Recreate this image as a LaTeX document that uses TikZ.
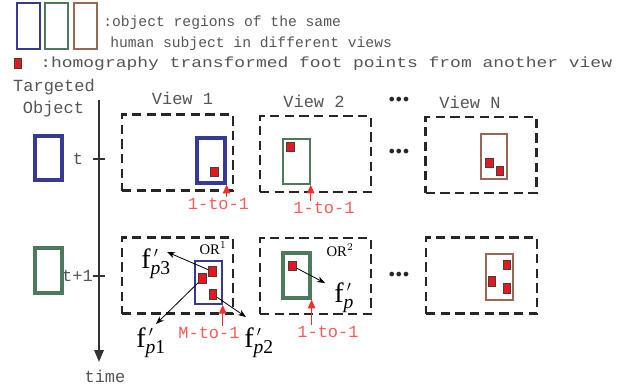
\documentclass[tikz,border=0pt]{standalone}
\usepackage{fontspec}
\setmainfont{Liberation Serif}
\setmonofont{Liberation Mono}
\newfontfamily\widemono[FakeStretch=1.226]{Liberation Mono}
\newfontfamily\dotfont{DejaVu Sans}
\usetikzlibrary{arrows.meta,positioning}

\definecolor{objblue}{HTML}{363A96}
\definecolor{objgreen}{HTML}{4C7A5C}
\definecolor{objbrown}{HTML}{9A6656}
\definecolor{footred}{HTML}{E8161E}
\definecolor{tagred}{HTML}{FF5A5A}
\definecolor{arrowred}{HTML}{FF2A2A}
\definecolor{txtgray}{HTML}{555555}

\begin{document}
\begin{tikzpicture}[
    x=0.75pt, y=-0.75pt,
    frame/.style={draw=black!85, line width=1.6pt, dash pattern=on 7pt off 4pt, minimum width=83.25pt, minimum height=57pt, inner sep=0pt},
    obj/.style={draw=#1, line width=1.1pt, minimum width=20.25pt, minimum height=33.75pt, inner sep=0pt},
    objthick/.style={obj=#1, line width=2.4pt},
    legbox/.style={draw=#1, line width=1.4pt, minimum width=17.25pt, minimum height=34.5pt, inner sep=0pt},
    foot/.style={draw=black!75, fill=footred, line width=0.7pt, minimum width=5.6pt, minimum height=7pt, inner sep=0pt},
    mono/.style={font=\ttfamily\fontsize{12.75}{14}\selectfont, text=txtgray, inner sep=0pt},
    legend/.style={font=\ttfamily\fontsize{11}{13}\selectfont, text=txtgray, inner sep=0pt, anchor=west},
    tag/.style={font=\ttfamily\fontsize{12.75}{14}\selectfont, text=tagred, inner sep=0pt},
    fvec/.style={font=\fontsize{21}{21}\selectfont, inner sep=0pt, anchor=base west},
    orlab/.style={font=\fontsize{11}{12}\selectfont, inner sep=0pt},
    more/.style={font=\dotfont\bfseries\fontsize{10}{10}\selectfont, text=black!85, inner sep=0pt},
    arrow/.style={-{Stealth[length=6pt,width=4.5pt]}, line width=0.6pt},
    redarrow/.style={-{Triangle[length=6.5pt,width=5.5pt]}, draw=arrowred, line width=0.9pt},
]
\useasboundingbox (0,0) rectangle (632,389);

% ====== Legend ======
\node[legbox=objblue] (lgB) at (28.5,26) {};
\node[legbox=objgreen] (lgG) at (56.5,26) {};
\node[legbox=objbrown] (lgR) at (85.5,26) {};
\node[legend] (lgtxt1) at (103,23) {:object regions of the same};
\node[legend] (lgtxt2) at (110,44) {human subject in different views};
\node[foot] (lgF) at (18,63.5) {};
\node[legend, font=\widemono\fontsize{11}{13}\selectfont] (lgtxt3) at (40,64) {:homography transformed foot points from another view};

% ====== Time axis ======
\node[mono] (tgt1) at (54,87) {Targeted};
\node[mono] (tgt2) at (53.5,109) {Object};
\coordinate (axtop) at (99,100);
\coordinate (axbot) at (99,362);
\draw[black!80, line width=1.6pt, -{Triangle[length=9pt,width=7pt]}] (axtop) -- (axbot);
\node[mono] (time) at (105,376) {time};
\coordinate (tk1) at (99,159);
\coordinate (tk2) at (99,276);
\draw[black!80, line width=1.2pt] ([xshift=-4.5pt]tk1) -- ([xshift=4.5pt]tk1);
\draw[black!80, line width=1.2pt] ([xshift=-4.5pt]tk2) -- ([xshift=4.5pt]tk2);
\node[mono] (lt) at (78,159) {t};
\node[mono] (ltt) at (77.5,276) {t+1};
\node[objthick=objblue, minimum height=33pt] (tgB) at (48.5,158) {};
\node[objthick=objgreen] (tgG) at (48.5,270.5) {};

% ====== View titles ======
\node[mono] (v1) at (182.5,98) {View 1};
\node[mono] (v2) at (314,101) {View 2};
\node[mono] (vN) at (470,102) {View N};
\node[more] (dots0) at (399,101) {•\kern-1pt•\kern-1pt•};
\node[more] (dots1) at (399,153) {•\kern-1pt•\kern-1pt•};
\node[more] (dots2) at (399,276) {•\kern-1pt•\kern-1pt•};

% ====== Frame t ======
\node[frame] (fr11) at (177.5,152.5) {};
\node[frame] (fr12) at (315.5,154) {};
\node[frame] (fr1N) at (481,155) {};

\node[objthick=objblue, minimum width=21pt] (r1v1) at (211,160.5) {};
\node[foot] (p11) at (214.5,172) {};
\node[obj=objgreen] (r1v2) at (296.5,161.5) {};
\node[foot] (p12) at (290.5,147) {};
\node[obj=objbrown, minimum width=19.5pt] (r1vN) at (494,156.5) {};
\node[foot] (p1Na) at (489.5,163) {};
\node[foot] (p1Nb) at (500,171) {};

\node[tag] (l11) at (218.5,204) {1-to-1};
\node[tag] (l12) at (324,208) {1-to-1};
\draw[redarrow] ([yshift=1pt]l11.north -| r1v1.south east) -- (r1v1.south east);
\draw[redarrow] ([yshift=1pt]l12.north -| r1v2.south east) -- (r1v2.south east);

% ====== Frame t+1 ======
\node[frame] (fr21) at (177.5,275.5) {};
\node[frame] (fr22) at (315.5,276) {};
\node[frame] (fr2N) at (481.5,275.5) {};

\node[obj=objblue, minimum height=32.5pt] (r2v1) at (208.5,282.5) {};
\node[foot] (p21a) at (212.5,271.5) {};
\node[foot] (p21b) at (202.5,278.5) {};
\node[foot] (p21c) at (213,294.5) {};
\node[objthick=objgreen] (r2v2) at (296.5,275.5) {};
\node[foot] (p22) at (292.5,266) {};
\node[obj=objbrown, minimum height=34.5pt] (r2vN) at (499.5,277) {};
\node[foot] (p2Na) at (507,265) {};
\node[foot] (p2Nb) at (492,281.5) {};
\node[foot] (p2Nc) at (507,288.5) {};

\node[orlab] (or1) at (213,248) {OR$^{1}$};
\node[orlab] (or2) at (340,250) {OR$^{2}$};

\node[fvec] (fp3) at (141,268) {$\mathrm{f}^{\,\scriptscriptstyle\prime}_{\mathit{p}\mathrm{3}}$};
\node[fvec] (fp1) at (136,347) {$\mathrm{f}^{\,\scriptscriptstyle\prime}_{\mathit{p}\mathrm{1}}$};
\node[fvec] (fp2) at (244,347) {$\mathrm{f}^{\,\scriptscriptstyle\prime}_{\mathit{p}\mathrm{2}}$};
\node[fvec] (fpp) at (334,302) {$\mathrm{f}^{\,\scriptscriptstyle\prime}_{\mathit{p}}$};

\coordinate (tp3) at (167,252);
\coordinate (tp1) at (156,324);
\coordinate (tp2) at (246,317);
\coordinate (tpp) at (325,283);
\draw[arrow] (p21a) -- (tp3);
\draw[arrow] (p21b) -- (tp1);
\draw[arrow] (p21c) -- (tp2);
\draw[arrow] (p22) -- (tpp);

\node[tag] (lM) at (209,333) {M-to-1};
\node[tag] (l22) at (328,332) {1-to-1};
\draw[redarrow] ([yshift=1pt]lM.north -| r2v1.south east) -- (r2v1.south east);
\draw[redarrow] ([yshift=1pt]l22.north -| r2v2.south east) -- (r2v2.south east);

\end{tikzpicture}
\end{document}
